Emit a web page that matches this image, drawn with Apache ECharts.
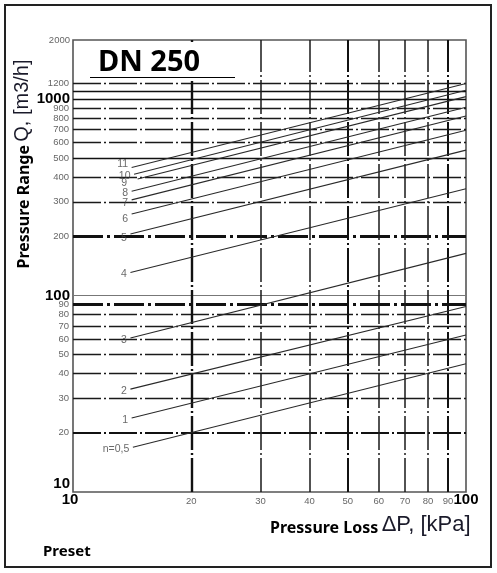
<!DOCTYPE html>
<html><head><meta charset="utf-8">
<script src="https://cdn.jsdelivr.net/npm/echarts@6/dist/echarts.min.js"></script>
<style>html,body{margin:0;padding:0;background:#fff}#c{width:497px;height:573px}</style>
</head><body><div id="c"></div>
<script>
// ---- data ----
const presetNames = ['n=0,5','1','2','3','4','5','6','7','8','9','10','11'];
const startDP = [14.2, 14.1, 14, 14, 14, 14, 14.1, 14.1, 14.1, 14.6, 14.3, 14.1];
const startQ  = [16.9, 23.8, 33.4, 60.8, 131, 206, 260, 307, 340, 392, 415, 449];
const endDP   = [100, 100, 100, 100, 100, 100, 100, 100, 100, 100, 100, 100];
const endQ    = [45, 63, 88, 164, 350, 550, 695, 820, 910, 1030, 1110, 1200];

const xMin = 10, xMax = 100, yMin = 10, yMax = 2000;
const xGridValues = [20, 30, 40, 50, 60, 70, 80, 90];
const yGridValues = [20, 30, 40, 50, 60, 70, 80, 90, 100, 200, 300, 400, 500, 600, 700, 800, 900, 1000, 1100, 1200];
const xTickLabels = [10, 20, 30, 40, 50, 60, 70, 80, 90, 100];
const yTickLabels = [10, 20, 30, 40, 50, 60, 70, 80, 90, 100, 200, 300, 400, 500, 600, 700, 800, 900, 1000, 1200, 2000];
const bigTickLabels = [10, 100, 1000];

const titleText = 'DN 250';
const yTitleBold = 'Pressure Range';
const yTitleReg = 'Q, [m3/h]';
const xTitleBold = 'Pressure Loss';
const xTitleReg = 'ΔP, [kPa]';
const footText = 'Preset';

// ---- styles ----
const numFont = 'Liberation Sans, Arial, sans-serif';
const dashDot = [28, 3, 2, 3];
function hLineStyle(v) {
  if (v === 200 || v === 90) return {color: '#111', width: 3, type: [30, 4, 3, 4], opacity: 1};
  if (v === 20) return {color: '#111', width: 2.2, type: dashDot, opacity: 1};
  if (v === 100) return {color: '#777', width: 1.2, type: 'solid', opacity: 1};
  if (v === 1000 || v === 1100 || v === 500) return {color: '#111', width: 1.3, type: 'solid', opacity: 1};
  return {color: '#1a1a1a', width: 1.3, type: dashDot, opacity: 1};
}
function vLineStyle(v) {
  if (v === 20) return {color: '#111', width: 2.4, type: [34, 3, 2, 3], opacity: 1};
  if (v === 50 || v === 90) return {color: '#111', width: 2, type: [34, 3, 2, 3], opacity: 1};
  return {color: '#1a1a1a', width: 1.5, type: [34, 3, 2, 3], opacity: 1};
}
// small nudges of individual preset labels (pixels)
const presetLabelNudge = {'11': [0, -3], '9': [-7, 4], '6': [0, 5], '5': [0, 4], '7': [0, 3]};

// values that the log axes label by themselves (decades and the axis ends)
function isAxisOwn(v, mx) { const l = Math.log10(v); return Math.abs(l - Math.round(l)) < 1e-9 || v === mx; }
function smallLabel(v) {
  return {show: true, position: 'start', formatter: String(v), fontFamily: numFont,
    fontSize: 9.5, color: '#666', distance: 4};
}

const hItems = yGridValues.map(v => ({
  yAxis: v, lineStyle: hLineStyle(v),
  label: (yTickLabels.indexOf(v) >= 0 && !isAxisOwn(v, yMax)) ? smallLabel(v) : {show: false}
}));
const vItems = xGridValues.map(v => ({
  xAxis: v, lineStyle: vLineStyle(v),
  label: (xTickLabels.indexOf(v) >= 0 && !isAxisOwn(v, xMax)) ? smallLabel(v) : {show: false}
}));

const series = [{
  type: 'line', data: [], silent: true,
  markLine: {silent: true, symbol: ['none', 'none'], animation: false, data: hItems.concat(vItems)}
}];
presetNames.forEach((n, i) => {
  series.push({
    type: 'line', name: n, silent: true, showSymbol: false,
    data: [[startDP[i], startQ[i]], [endDP[i], endQ[i]]],
    lineStyle: {color: '#2a2a2a', width: 1.1}, z: 6
  });
});
series.push({
  type: 'scatter', silent: true, symbolSize: 1, z: 7,
  itemStyle: {color: 'rgba(0,0,0,0)'},
  data: presetNames.map((n, i) => ({name: n, value: [startDP[i], startQ[i]],
    label: {offset: presetLabelNudge[n] || [0, 2]}})),
  label: {show: true, position: 'left', distance: 3, formatter: '{b}',
    fontFamily: numFont, fontSize: 10.5, color: '#444'}
});

const bigRich = {
  b: {fontFamily: numFont, fontSize: 15, fontWeight: 'bold', color: '#000'},
  bUp: {fontFamily: numFont, fontSize: 15, fontWeight: 'bold', color: '#000', padding: [0, 0, 16, 0]},
  bLeft: {fontFamily: numFont, fontSize: 15, fontWeight: 'bold', color: '#000', padding: [0, 6, 0, 0]},
  s: {fontFamily: numFont, fontSize: 9.5, color: '#666'}
};

const chart = echarts.init(document.getElementById('c'), null, {renderer: 'canvas'});
chart.setOption({
  animation: false,
  backgroundColor: '#fff',
  grid: {left: 73, right: 31, top: 40, bottom: 81, show: true, borderColor: '#555', borderWidth: 1.6, containLabel: false},
  xAxis: {type: 'log', logBase: 10, min: xMin, max: xMax,
    axisLine: {show: false}, axisTick: {show: false}, splitLine: {show: false},
    axisLabel: {show: true, margin: 0, rich: bigRich,
      formatter: v => { const r = Math.round(v); return r === xMin ? '{bLeft|' + r + '}' : '{b|' + r + '}'; }}},
  yAxis: {type: 'log', logBase: 10, min: yMin, max: yMax,
    axisLine: {show: false}, axisTick: {show: false}, splitLine: {show: false},
    axisLabel: {show: true, margin: 3, rich: bigRich,
      formatter: v => { const r = Math.round(v);
        if (bigTickLabels.indexOf(r) < 0) return '{s|' + r + '}';
        return r === yMin ? '{bUp|' + r + '}' : '{b|' + r + '}'; }}},
  series: series,
  graphic: [
    {type: 'rect', z: 100, shape: {x: 5, y: 5, width: 486, height: 562}, style: {fill: 'none', stroke: '#222', lineWidth: 2}},
    {type: 'rect', z: 100, shape: {x: 76, y: 42, width: 162, height: 39}, style: {fill: '#fff'}},
    {type: 'text', z: 101, x: 149, y: 63, style: {text: titleText, fill: '#000', font: 'bold 29px "Noto Sans", sans-serif', textAlign: 'center', textVerticalAlign: 'middle'}},
    {type: 'line', z: 101, shape: {x1: 90, y1: 77.5, x2: 235, y2: 77.5}, style: {stroke: '#000', lineWidth: 1}},
    {type: 'text', z: 101, x: 22, y: 164, rotation: Math.PI / 2,
      style: {text: '{b|' + yTitleBold + '} {r|' + yTitleReg + '}', textAlign: 'center', textVerticalAlign: 'middle',
        rich: {b: {font: 'bold 16px "Noto Sans", sans-serif', fill: '#000', verticalAlign: 'bottom'},
               r: {font: '20px "Liberation Sans", Arial, sans-serif', fill: '#1a1a2a', verticalAlign: 'bottom'}}}},
    {type: 'text', z: 101, x: 270, y: 525,
      style: {text: '{b|' + xTitleBold + '} {r|' + xTitleReg + '}', textAlign: 'left', textVerticalAlign: 'middle',
        rich: {b: {font: 'bold 16px "Noto Sans", sans-serif', fill: '#000', verticalAlign: 'bottom'},
               r: {font: '22px "Liberation Sans", Arial, sans-serif', fill: '#1a1a2a', verticalAlign: 'bottom'}}}},
    {type: 'text', z: 101, x: 43, y: 552, style: {text: footText, fill: '#000', font: 'bold 15px "Noto Sans", sans-serif', textAlign: 'left', textVerticalAlign: 'middle'}}
  ]
});
</script></body></html>
